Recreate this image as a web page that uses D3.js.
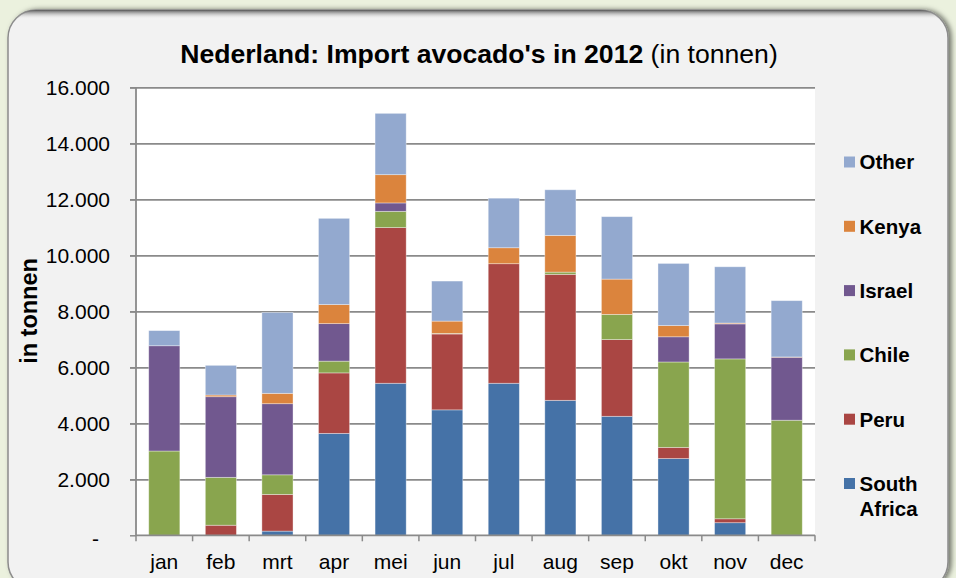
<!DOCTYPE html>
<html><head><meta charset="utf-8">
<script src="https://cdn.jsdelivr.net/npm/d3@7"></script>
<style>
html,body{margin:0;padding:0;background:#ebf1de;}
svg{display:block;font-family:"Liberation Sans",Arial,sans-serif;}
</style></head>
<body>
<svg id="c" width="956" height="578"></svg>
<script>
const months = ["jan","feb","mrt","apr","mei","jun","jul","aug","sep","okt","nov","dec"];
const seriesNames = ["South Africa","Peru","Chile","Israel","Kenya","Other"];
const southAfrica = [0,0,150,3640,5430,4480,5430,4820,4250,2740,450,0];
const peru        = [0,360,1310,2160,5560,2710,4270,4500,2740,400,140,0];
const chile       = [3010,1710,700,420,580,20,0,80,900,3050,5710,4110];
const israel      = [3760,2880,2540,1340,300,0,0,0,0,900,1250,2250];
const kenya       = [0,60,370,680,1010,440,570,1310,1260,400,30,10];
const other       = [540,1060,2890,3080,2190,1430,1770,1630,2230,2220,2010,2010];
const yTicks = [0,2000,4000,6000,8000,10000,12000,14000,16000];
const colors = ["#4572A7","#AA4643","#89A54E","#71588F","#DB843D","#93A9CF"];

const seriesValues = [southAfrica,peru,chile,israel,kenya,other];
const table = months.map((m,i)=>{const o={month:m};seriesNames.forEach((s,k)=>o[s]=seriesValues[k][i]);return o;});

const svg = d3.select("#c");
const defs = svg.append("defs");
const sh = defs.append("filter").attr("id","sh").attr("x","-5%").attr("y","-5%").attr("width","112%").attr("height","112%");
sh.append("feDropShadow").attr("dx",3).attr("dy",0).attr("stdDeviation",2.5).attr("flood-color","#000").attr("flood-opacity",0.5);
const g1 = defs.append("linearGradient").attr("id","tg").attr("x1",0).attr("y1",0).attr("x2",0).attr("y2",1);
g1.append("stop").attr("offset","0%").attr("stop-color","#5a5a5a");
g1.append("stop").attr("offset","100%").attr("stop-color","#f2f2f2").attr("stop-opacity",0);
defs.append("clipPath").attr("id","fc").append("rect").attr("x",8).attr("y",10).attr("width",940).attr("height",580).attr("rx",28);

// frame
svg.append("rect").attr("x",8).attr("y",10).attr("width",940).attr("height",580).attr("rx",28)
  .attr("fill","#f2f2f2").attr("stroke","#8c8c8c").attr("stroke-width",1.5).attr("filter","url(#sh)");
svg.append("g").attr("clip-path","url(#fc)").append("rect").attr("x",8).attr("y",10).attr("width",940).attr("height",9).attr("fill","url(#tg)");

const x = d3.scaleBand().domain(months).range([136,815]).paddingInner(0.45).paddingOuter(0.225);
const y = d3.scaleLinear().domain([0,16000]).range([535.3,87.3]);

// plot area
svg.append("rect").attr("x",136).attr("y",y(16000)).attr("width",815-136).attr("height",y(0)-y(16000)).attr("fill","#fff");

// gridlines + y axis
const fmt = d3.formatLocale({decimal:",",thousands:".",grouping:[3],currency:["",""]}).format(",.0f");
const yAxis = d3.axisLeft(y).tickValues(yTicks).tickSize(6).tickPadding(20).tickFormat(d=>d===0?"-":fmt(d));
const ya = svg.append("g").attr("transform","translate(136,0)").call(yAxis);
ya.select(".domain").remove();
ya.selectAll(".tick line").attr("stroke","#8a8a8a").attr("stroke-width",1.5);
ya.selectAll(".tick").filter(d=>d>0).append("line").attr("x1",-6).attr("x2",815-136).attr("stroke","#8a8a8a").attr("stroke-width",1.8);
ya.selectAll(".tick text").attr("font-size",21).attr("fill","#000").attr("font-family","'Liberation Sans',Arial,sans-serif");
ya.selectAll(".tick text").filter(d=>d===0).attr("dx",-11).attr("dy","0.5em");

// stacked bars
const stack = d3.stack().keys(seriesNames)(table);
svg.append("g").selectAll("g").data(stack).join("g").attr("fill",(d,i)=>colors[i])
  .selectAll("rect").data(d=>d.filter(p=>p[1]-p[0]>0)).join("rect")
  .attr("x",d=>x(d.data.month)).attr("width",x.bandwidth())
  .attr("y",d=>y(d[1])).attr("height",d=>y(d[0])-y(d[1]))
  .attr("stroke","#ffffff").attr("stroke-opacity",0.45).attr("stroke-width",0.8);

// y axis line
svg.append("line").attr("x1",136).attr("x2",136).attr("y1",y(16000)).attr("y2",y(0)).attr("stroke","#8a8a8a").attr("stroke-width",1.8);

// x axis
const xa = svg.append("g").attr("transform",`translate(0,${y(0)})`);
xa.append("line").attr("x1",136).attr("x2",815).attr("stroke","#8a8a8a").attr("stroke-width",1.8);
const bounds = months.map(m=>x(m)-x.step()*x.paddingInner()/2).concat([815]);
xa.selectAll("line.t").data(bounds).join("line").attr("class","t")
  .attr("x1",d=>d).attr("x2",d=>d).attr("y1",0).attr("y2",6).attr("stroke","#8a8a8a").attr("stroke-width",1.5);
xa.selectAll("text").data(months).join("text")
  .attr("x",d=>x(d)+x.bandwidth()/2).attr("y",34).attr("text-anchor","middle")
  .attr("font-size",21).attr("fill","#000").text(d=>d);

// title
const t = svg.append("text").attr("x",479).attr("y",62.5).attr("text-anchor","middle").attr("font-size",26.6).attr("fill","#000");
t.append("tspan").attr("font-weight","bold").text("Nederland: Import avocado's in 2012");
t.append("tspan").text(" (in tonnen)");

// y title
svg.append("text").attr("transform","translate(37,311) rotate(-90)").attr("text-anchor","middle")
  .attr("font-size",23.5).attr("font-weight","bold").attr("fill","#000").text("in tonnen");

// legend
const legendOrder = [5,4,3,2,1,0];
const lg = svg.append("g");
legendOrder.forEach((k,i)=>{
  const cy = 162 + i*64.3;
  lg.append("rect").attr("x",844).attr("y",cy-5.5).attr("width",11).attr("height",11).attr("fill",colors[k]);
  const words = seriesNames[k].split(" ");
  const tx = lg.append("text").attr("x",859.5).attr("y",cy+7.3).attr("font-size",20.5).attr("font-weight","bold").attr("fill","#000");
  words.forEach((w,j)=>tx.append("tspan").attr("x",859.5).attr("dy",j===0?0:25).text(w));
});
</script>
</body></html>
